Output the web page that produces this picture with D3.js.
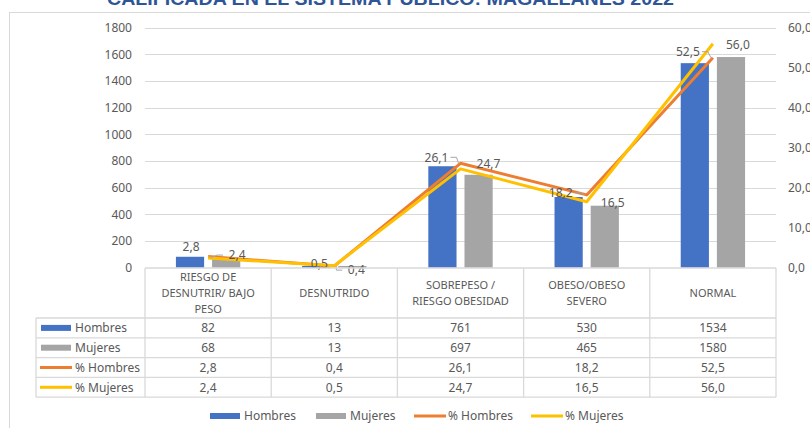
<!DOCTYPE html>
<html lang="es">
<head>
<meta charset="utf-8">
<script src="https://d3js.org/d3.v7.min.js"></script>
<style>
  body { margin: 0; background: #fff; }
  svg text { font-family: 'Noto Sans', sans-serif; fill: #595959; }
  .title { font-family: 'Liberation Sans', sans-serif; font-weight: bold; fill: #2F5597; }
</style>
</head>
<body>
<div id="chart"></div>
<script>
// data
const categories = [
  ['RIESGO DE', 'DESNUTRIR/ BAJO', 'PESO'],
  ['DESNUTRIDO'],
  ['SOBREPESO /', 'RIESGO OBESIDAD'],
  ['OBESO/OBESO', 'SEVERO'],
  ['NORMAL']
];
const hombres = [82, 13, 761, 530, 1534];
const mujeres = [68, 13, 697, 465, 1580];
const pctHombres = [2.8, 0.4, 26.1, 18.2, 52.5];
const pctMujeres = [2.4, 0.5, 24.7, 16.5, 56.0];
const leftTicks = [0, 200, 400, 600, 800, 1000, 1200, 1400, 1600, 1800];
const rightTicks = [0, 10, 20, 30, 40, 50, 60];

const W = 810, H = 428;
const fmt = d => d3.format('.1f')(d).replace('.', ',');

const svg = d3.select('#chart').append('svg')
  .attr('width', W).attr('height', H);

// outer frame
svg.append('rect')
  .attr('x', 9.5).attr('y', 12.5).attr('width', 900).attr('height', 500)
  .attr('fill', 'none').attr('stroke', '#D9D9D9');

svg.append('text').attr('class', 'title')
  .attr('x', 107).attr('y', 5)
  .attr('textLength', 567).attr('lengthAdjust', 'spacingAndGlyphs')
  .style('font-size', '18px')
  .text('CALIFICADA EN EL SISTEMA PUBLICO: MAGALLANES 2022');

const plot = { left: 145, right: 776, top: 27.7, bottom: 267.7 };

const x0 = d3.scaleBand().domain(d3.range(categories.length))
  .range([plot.left, plot.right]);
const bw = x0.bandwidth();
const x1 = d3.scaleBand().domain(['h', 'm'])
  .range([bw * 0.245, bw * 0.755]).paddingInner(0.22);

const yL = d3.scaleLinear().domain([0, 1800]).range([plot.bottom, plot.top]);
const yR = d3.scaleLinear().domain([0, 60]).range([plot.bottom, plot.top]);

// gridlines
svg.append('g').selectAll('line').data(leftTicks.slice(1)).join('line')
  .attr('x1', plot.left).attr('x2', plot.right)
  .attr('y1', d => Math.round(yL(d)) + 0.5).attr('y2', d => Math.round(yL(d)) + 0.5)
  .attr('stroke', '#D9D9D9').attr('stroke-width', 1);

// axes (labels only)
const axL = svg.append('g').attr('transform', `translate(${plot.left},0)`)
  .call(d3.axisLeft(yL).tickValues(leftTicks).tickSize(0).tickPadding(13).tickFormat(d3.format('d')));
const axR = svg.append('g').attr('transform', `translate(${plot.right},0)`)
  .call(d3.axisRight(yR).tickValues(rightTicks).tickSize(0).tickPadding(12).tickFormat(fmt));
[axL, axR].forEach(a => {
  a.select('.domain').remove();
  a.selectAll('text').attr('font-size', 12).attr('fill', '#595959')
    .style('font-family', "'Noto Sans', sans-serif");
});

// bars
const colors = { h: '#4472C4', m: '#A5A5A5', ph: '#ED7D31', pm: '#FFC000' };
const groups = svg.append('g').selectAll('g').data(d3.range(categories.length)).join('g')
  .attr('transform', i => `translate(${x0(i)},0)`);
groups.append('rect')
  .attr('x', x1('h')).attr('width', x1.bandwidth())
  .attr('y', i => yL(hombres[i])).attr('height', i => yL(0) - yL(hombres[i]))
  .attr('fill', colors.h);
groups.append('rect')
  .attr('x', x1('m')).attr('width', x1.bandwidth())
  .attr('y', i => yL(mujeres[i])).attr('height', i => yL(0) - yL(mujeres[i]))
  .attr('fill', colors.m);

// lines
const cx = i => x0(i) + bw / 2;
const line = d3.line().x((d, i) => cx(i)).y(d => yR(d));
svg.append('path').datum(pctHombres).attr('d', line)
  .attr('fill', 'none').attr('stroke', colors.ph).attr('stroke-width', 3).attr('stroke-linejoin', 'round');
svg.append('path').datum(pctMujeres).attr('d', line)
  .attr('fill', 'none').attr('stroke', colors.pm).attr('stroke-width', 3).attr('stroke-linejoin', 'round');

// data labels (offsets from each point)
const offH = [[-17, -10], [22, 4], [-24, -6], [-26, -2], [-25, -6]];
const offM = [[29, -3], [-15, -2], [28, -5], [26, 1], [25, 1]];
const leadH = [false, true, true, true, true];
const leadM = [true, false, false, false, false];
function labels(vals, offs, leads) {
  vals.forEach((v, i) => {
    const px = cx(i), py = yR(v);
    const lx = px + offs[i][0], ly = py + offs[i][1];
    if (leads[i]) {
      const edge = offs[i][0] < 0 ? lx + 14 : lx - 14;
      svg.append('polyline')
        .attr('points', `${edge},${ly} ${edge + (offs[i][0] < 0 ? 6 : -6)},${ly} ${px + (offs[i][0] < 0 ? -2 : 2)},${py}`)
        .attr('fill', 'none').attr('stroke', '#A6A6A6').attr('stroke-width', 1);
    }
    svg.append('text').attr('x', lx).attr('y', ly).attr('dy', '0.35em')
      .attr('text-anchor', 'middle').attr('font-size', 12).attr('fill', '#404040')
      .text(fmt(v));
  });
}
labels(pctHombres, offH, leadH);
labels(pctMujeres, offM, leadM);

// data table
const tbl = { left: 36, top: 268, head: 318, rowH: 19.8 };
const rows = [
  { name: 'Hombres', vals: hombres, key: 'h', f: d3.format('d') },
  { name: 'Mujeres', vals: mujeres, key: 'm', f: d3.format('d') },
  { name: '% Hombres', vals: pctHombres, key: 'ph', f: fmt },
  { name: '% Mujeres', vals: pctMujeres, key: 'pm', f: fmt }
];
const tbottom = tbl.head + rows.length * tbl.rowH;
const tg = svg.append('g').attr('stroke', '#D9D9D9').attr('stroke-width', 1.3);
tg.append('line').attr('x1', plot.left).attr('x2', plot.right).attr('y1', tbl.top).attr('y2', tbl.top);
d3.range(rows.length + 1).forEach(r => {
  const y = tbl.head + r * tbl.rowH;
  tg.append('line').attr('x1', tbl.left).attr('x2', plot.right).attr('y1', y).attr('y2', y);
});
d3.range(categories.length + 1).forEach(c => {
  const xx = plot.left + c * bw;
  tg.append('line').attr('x1', xx).attr('x2', xx).attr('y1', tbl.top).attr('y2', tbottom);
});
tg.append('line').attr('x1', tbl.left).attr('x2', tbl.left).attr('y1', tbl.head).attr('y2', tbottom);

// header text
categories.forEach((lines, i) => {
  const mid = 293, lh = 15.7;
  lines.forEach((t, k) => {
    svg.append('text').attr('x', cx(i)).attr('y', mid + (k - (lines.length - 1) / 2) * lh)
      .attr('dy', '0.35em').attr('text-anchor', 'middle').attr('font-size', 11).text(t);
  });
});

// rows
rows.forEach((r, ri) => {
  const y = tbl.head + (ri + 0.5) * tbl.rowH;
  if (r.key === 'h' || r.key === 'm') {
    svg.append('rect').attr('x', 41).attr('y', y - 3).attr('width', 30).attr('height', 6).attr('fill', colors[r.key]);
  } else {
    svg.append('line').attr('x1', 40).attr('x2', 72).attr('y1', y).attr('y2', y)
      .attr('stroke', colors[r.key]).attr('stroke-width', 3);
  }
  svg.append('text').attr('x', 75).attr('y', y).attr('dy', '0.35em').attr('font-size', 12).text(r.name);
  r.vals.forEach((v, i) => {
    svg.append('text').attr('x', cx(i)).attr('y', y).attr('dy', '0.35em')
      .attr('text-anchor', 'middle').attr('font-size', 12).text(r.f(v));
  });
});

// bottom legend
const legend = [
  { name: 'Hombres', key: 'h', x: 210 },
  { name: 'Mujeres', key: 'm', x: 316 },
  { name: '% Hombres', key: 'ph', x: 414 },
  { name: '% Mujeres', key: 'pm', x: 531 }
];
const ly = 416;
legend.forEach(l => {
  if (l.key === 'h' || l.key === 'm') {
    svg.append('rect').attr('x', l.x).attr('y', ly - 3).attr('width', 30).attr('height', 6).attr('fill', colors[l.key]);
  } else {
    svg.append('line').attr('x1', l.x).attr('x2', l.x + 32).attr('y1', ly).attr('y2', ly)
      .attr('stroke', colors[l.key]).attr('stroke-width', 3);
  }
  svg.append('text').attr('x', l.x + 34).attr('y', ly).attr('dy', '0.35em').attr('font-size', 12).text(l.name);
});
</script>
</body>
</html>
